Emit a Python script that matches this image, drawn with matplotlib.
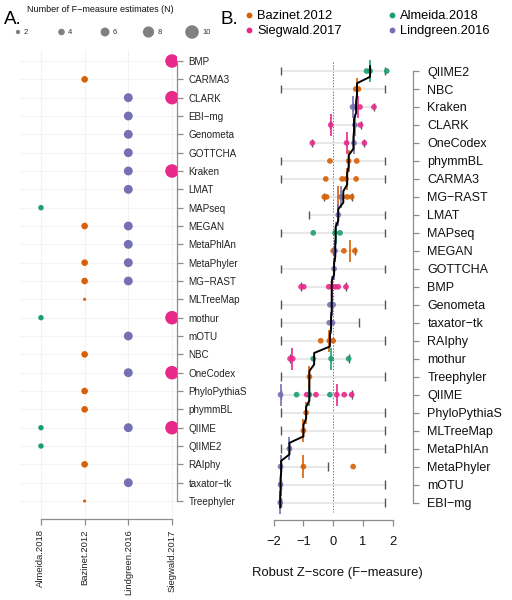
import numpy as np
import matplotlib
matplotlib.use('Agg')
import matplotlib.pyplot as plt
from matplotlib.lines import Line2D

plt.rcParams['font.family'] = ['Liberation Sans', 'DejaVu Sans']

M = '\u2212'  # R draws '-' as a minus sign
nan = np.nan

STUDIES = ['Almeida.2018', 'Bazinet.2012', 'Lindgreen.2016', 'Siegwald.2017']
COLORS = {'Almeida.2018': '#1B9E77', 'Bazinet.2012': '#D95F02',
          'Lindgreen.2016': '#7570B3', 'Siegwald.2017': '#E7298A'}

# ── Panel A: number of F-measure estimates per tool and study ────────────────
tools_a = ['BMP', 'CARMA3', 'CLARK', 'EBI-mg', 'Genometa', 'GOTTCHA', 'Kraken',
           'LMAT', 'MAPseq', 'MEGAN', 'MetaPhlAn', 'MetaPhyler', 'MG-RAST',
           'MLTreeMap', 'mothur', 'mOTU', 'NBC', 'OneCodex', 'PhyloPythiaS',
           'phymmBL', 'QIIME', 'QIIME2', 'RAIphy', 'taxator-tk', 'Treephyler']
n_alm = [0, 0, 0, 0, 0, 0, 0, 0, 3, 0, 0, 0, 0, 0, 3, 0, 0, 0, 0, 0, 3, 3, 0, 0, 0]
n_baz = [0, 4, 0, 0, 0, 0, 0, 0, 0, 4, 0, 4, 4, 1, 0, 0, 4, 0, 4, 4, 0, 0, 4, 0, 1]
n_lin = [0, 0, 6, 6, 6, 6, 6, 6, 0, 6, 6, 6, 6, 0, 0, 6, 0, 6, 0, 0, 6, 0, 0, 6, 0]
n_sie = [10, 0, 10, 0, 0, 0, 10, 0, 0, 0, 0, 0, 0, 0, 10, 0, 0, 10, 0, 0, 10, 0, 0, 0, 0]
legend_n = [2, 4, 6, 8, 10]

# ── Panel B: robust Z-scores per tool ────────────────────────────────────────
tools_b = ['QIIME2', 'NBC', 'Kraken', 'CLARK', 'OneCodex', 'phymmBL', 'CARMA3',
           'MG-RAST', 'LMAT', 'MAPseq', 'MEGAN', 'GOTTCHA', 'BMP', 'Genometa',
           'taxator-tk', 'RAIphy', 'mothur', 'Treephyler', 'QIIME',
           'PhyloPythiaS', 'MLTreeMap', 'MetaPhlAn', 'MetaPhyler', 'mOTU', 'EBI-mg']
z_alm = [[1.12, 1.24, 1.80], [], [], [], [], [], [], [], [], [-0.67, 0.06, 0.23],
         [], [], [], [], [], [], [-0.67, -0.07, 0.52], [], [-1.23, -0.80, -0.11],
         [], [], [], [], [], []]
z_baz = [[], [0.76, 0.85], [], [], [], [-0.11, 0.52, 0.79], [-0.25, 0.30, 0.43, 0.77],
         [-0.30, -0.22, 0.30, 0.47, 0.62], [], [], [0.0, 0.36, 0.73], [], [], [], [],
         [-0.42, -0.13, 0.0], [], [-0.80], [], [-0.91], [-1.00], [], [-1.00, 0.67],
         [], []]
z_lin = [[], [], [0.65, 0.73], [0.73], [0.70], [], [], [0.26], [0.17], [], [0.06],
         [0.03], [], [-0.11, 0.0], [-0.13, -0.02], [], [], [], [-1.77], [], [],
         [-1.47], [-1.77], [-1.77], [-1.78]]
z_sie = [[], [], [0.90, 1.37], [-0.08, 0.92], [-0.70, 0.45, 1.05], [], [], [], [],
         [], [], [], [-1.08, -0.99, -0.15, -0.04, 0.07, 0.17, 0.43], [], [], [],
         [-1.45, -1.36], [], [-0.89, -0.58, 0.12, 0.37, 0.62], [], [], [], [], [], []]

med_alm = [1.24, nan, nan, nan, nan, nan, nan, nan, nan, 0.08, nan, nan, nan, nan,
           nan, nan, -0.07, nan, -0.80, nan, nan, nan, nan, nan, nan]
med_baz = [nan, 0.80, nan, nan, nan, 0.52, 0.45, 0.17, nan, nan, 0.56, nan, nan,
           nan, nan, -0.13, nan, -0.80, nan, -0.91, -1.00, nan, -1.00, nan, nan]
med_lin = [nan, nan, 0.68, 0.73, 0.70, nan, nan, 0.26, 0.17, nan, 0.06, 0.03, nan,
           -0.05, -0.07, nan, nan, nan, -1.77, nan, nan, -1.47, -1.77, -1.77, -1.78]
med_sie = [nan, nan, 0.85, -0.08, 0.45, nan, nan, nan, nan, nan, nan, nan, -0.05,
           nan, nan, nan, -1.40, nan, 0.12, nan, nan, nan, nan, nan, nan]
med_all = [1.24, 0.80, 0.77, 0.70, 0.68, 0.52, 0.47, 0.34, 0.17, 0.08, 0.07, 0.03,
           -0.05, -0.05, -0.07, -0.11, -0.64, -0.80, -0.80, -0.91, -1.00, -1.47,
           -1.75, -1.77, -1.78]
range_lo = [-1.75, -1.75, 0.65, -0.10, -0.70, -1.75, -1.75, -0.30, -0.81, -1.75,
            0.0, -1.75, -1.08, -1.75, -1.75, -1.75, -1.45, -1.75, -1.77, -1.75,
            -1.75, -1.75, -1.75, -1.75, -1.75]
range_hi = [1.75, 1.75, 1.37, 0.92, 1.05, 1.75, 1.75, 0.62, 1.75, 1.75, 0.73, 1.75,
            0.43, 1.75, 0.86, 1.75, 0.52, 1.75, 0.62, 1.75, 1.75, 1.75, -0.19,
            1.75, 1.75]


def size_of(n):
    """Area (pt^2) of a circle for N estimates."""
    d_px = 2.0 + 1.15 * np.asarray(n)
    return (d_px * 0.72) ** 2


def r_style(ax, color='#8c8c8c'):
    for s in ['top', 'left']:
        ax.spines[s].set_visible(False)
    for s in ['right', 'bottom']:
        ax.spines[s].set_color(color)
        ax.spines[s].set_linewidth(0.9)
    ax.tick_params(colors=color, width=0.9)


fig = plt.figure(figsize=(5.12, 6.0), dpi=100)

# ── A ─────────────────────────────────────────────────────────────────────────
axa = fig.add_axes([20 / 512, 1 - 519 / 600, 157 / 512, 469 / 600])
ya = np.arange(len(tools_a))
for i in range(4):
    axa.axvline(i, color='#f2f2f2', lw=0.8, zorder=0)
for y in ya:
    axa.axhline(y, color='#f4f4f4', lw=0.8, zorder=0)
for xi, (study, ns) in enumerate(zip(STUDIES, [n_alm, n_baz, n_lin, n_sie])):
    ns = np.array(ns)
    keep = ns > 0
    axa.scatter(np.full(keep.sum(), xi), ya[keep], s=size_of(ns[keep]),
                color=COLORS[study], edgecolor='none', zorder=3)
axa.set_xlim(-0.48, 3.115)
axa.set_ylim(24.98, -0.6)
r_style(axa)
axa.spines['right'].set_bounds(0, 24)
axa.spines['bottom'].set_bounds(0, 3)
axa.yaxis.tick_right()
axa.set_yticks(ya)
axa.set_yticklabels([t.replace('-', M) for t in tools_a])
axa.set_xticks(range(4))
axa.set_xticklabels(STUDIES, rotation=90)
axa.tick_params(axis='y', length=4.3, pad=4, labelsize=7.1, labelcolor='#222222')
axa.tick_params(axis='x', length=4.3, pad=3, labelsize=6.8, labelcolor='#222222')

# size legend (drawn in its own blank axes, pixel units)
axl = fig.add_axes([0, 1 - 45 / 600, 256 / 512, 45 / 600])
axl.set_xlim(0, 256)
axl.set_ylim(45, 0)
axl.axis('off')
lx = 18 + 43.5 * np.arange(len(legend_n))
axl.scatter(lx, np.full(len(legend_n), 32), s=size_of(legend_n), color='#808080',
            edgecolor='none')
for x, n in zip(lx, legend_n):
    axl.text(x + 4 + 0.6 * n, 32, str(n), fontsize=5.5, va='center', ha='left',
             color='#333333')
axl.text(27, 10, 'Number of F' + M + 'measure estimates (N)', fontsize=6.5,
         va='center', ha='left', color='#111111')

fig.text(4 / 512, 1 - 19 / 600, 'A.', fontsize=13.5, va='center', ha='left')
fig.text(221 / 512, 1 - 19 / 600, 'B.', fontsize=13.5, va='center', ha='left')

# ── B ─────────────────────────────────────────────────────────────────────────
x0 = 262
axb = fig.add_axes([x0 / 512, 1 - 520 / 600, (413 - x0) / 512, 470 / 600])
yb = np.arange(len(tools_b))
axb.set_xlim((x0 - 333.2) / 29.75, (413 - 333.2) / 29.75)
axb.set_ylim(24.97, -1.17)

axb.vlines(0, -0.5, 24.5, color='#777777', lw=0.7, ls=(0, (1.5, 1.5)), zorder=1)
axb.hlines(yb, range_lo, range_hi, color='#e4e4e4', lw=1.2, zorder=1)
axb.vlines(range_lo, yb - 0.24, yb + 0.24, color='#555555', lw=1.0, zorder=2)
axb.vlines(range_hi, yb - 0.24, yb + 0.24, color='#555555', lw=1.0, zorder=2)

for study, zs in zip(STUDIES, [z_alm, z_baz, z_lin, z_sie]):
    xs = [v for row in zs for v in row]
    ys = [i for i, row in enumerate(zs) for _ in row]
    axb.scatter(xs, ys, s=17, color=COLORS[study], edgecolor='none',
                alpha=0.9, zorder=3)

for study, med in zip(STUDIES, [med_alm, med_baz, med_lin, med_sie]):
    med = np.array(med)
    ok = ~np.isnan(med)
    axb.vlines(med[ok], yb[ok] - 0.62, yb[ok] + 0.62, color=COLORS[study],
               lw=1.2, zorder=4)

# black line through the overall medians
px, py = [], []
for m, y in zip(med_all, yb):
    px += [m, m]
    py += [y - 0.32, y + 0.32]
axb.plot(px, py, color='black', lw=1.4, zorder=5, solid_capstyle='butt')

r_style(axb)
axb.spines['right'].set_bounds(0, 24)
axb.spines['bottom'].set_bounds(-2, 2)
axb.yaxis.tick_right()
axb.set_yticks(yb)
axb.set_yticklabels([t.replace('-', M) for t in tools_b])
axb.set_xticks([-2, -1, 0, 1, 2])
axb.tick_params(axis='y', length=4.3, pad=6, labelsize=9.0, labelcolor='#111111')
axb.tick_params(axis='x', length=4.3, pad=7, labelsize=9.3, labelcolor='#111111')
axb.set_xlabel('Robust Z' + M + 'score (F' + M + 'measure)', fontsize=9.4,
               labelpad=14, color='#111111')

study_handles = [Line2D([], [], ls='none', marker='o', color=COLORS[s],
                        markeredgecolor='none', markersize=4.2)
                 for s in ['Bazinet.2012', 'Siegwald.2017', 'Almeida.2018', 'Lindgreen.2016']]
fig.legend(study_handles, ['Bazinet.2012', 'Siegwald.2017', 'Almeida.2018', 'Lindgreen.2016'],
           ncol=2, loc='upper left', bbox_to_anchor=(237 / 512, 1 - 5 / 600),
           frameon=False, fontsize=9.3, handletextpad=0.15, columnspacing=3.4,
           labelspacing=0.25, borderaxespad=0, handlelength=1.0)

fig.savefig('out.png', dpi=100)
